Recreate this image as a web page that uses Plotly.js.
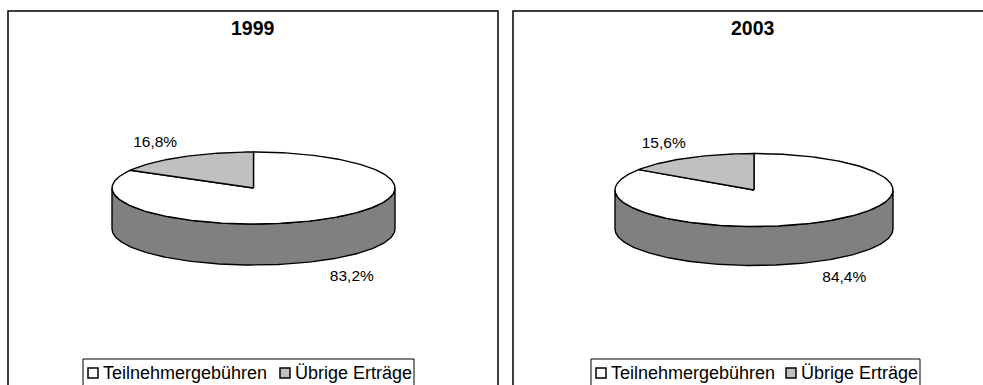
<!DOCTYPE html>
<html>
<head>
<meta charset="utf-8">
<script src="https://cdn.plot.ly/plotly-3.0.1.min.js"></script>
<style>html,body{margin:0;padding:0;background:#fff;}#chart{width:983px;height:385px;}</style>
</head>
<body>
<div id="chart"></div>
<script>
// ---- data ----
const years = ['1999', '2003'];
const categories = ['Teilnehmergebühren', 'Übrige Erträge'];
const values1999 = [83.2, 16.8];
const values2003 = [84.4, 15.6];
const seriesByYear = [values1999, values2003];

// ---- styles / layout geometry (pixel units of the figure) ----
const topColors = ['#FFFFFF', '#C0C0C0'];
const sideColors = ['#808080', '#606060'];
const FONT = 'Arial, "Liberation Sans", sans-serif';
const W = 983, H = 385;

const panels = [
  {x0: 8, x1: 498, top: 11, cx: 253.5, cy: 188, rx: 141.5, ry: 36, depth: 41,
   legX0: 83, legX1: 414, legY0: 359, sq: [88, 280], txt: [101, 293]},
  {x0: 513, x1: 1010, top: 11, cx: 754, cy: 190, rx: 139, ry: 36.5, depth: 39,
   legX0: 591, legX1: 920, legY0: 359, sq: [596, 786], txt: [609, 799]}
];

function pt(p, deg, dy) {
  const r = deg * Math.PI / 180;
  return [p.cx + p.rx * Math.sin(r), p.cy - p.ry * Math.cos(r) + dy];
}
function arc(p, a, b, dy) {
  const n = Math.max(2, Math.ceil(Math.abs(b - a)));
  const out = [];
  for (let i = 0; i <= n; i++) out.push(pt(p, a + (b - a) * i / n, dy));
  return out;
}
function polyTrace(points, fill) {
  return {
    type: 'scatter', mode: 'lines', x: points.map(q => q[0]), y: points.map(q => q[1]),
    fill: 'toself', fillcolor: fill, line: {color: '#000', width: 1.4},
    hoverinfo: 'skip', showlegend: false
  };
}

const traces = [];
const shapes = [];
const annotations = [];

panels.forEach((p, k) => {
  const vals = seriesByYear[k];
  const total = vals.reduce((s, v) => s + v, 0);
  // slice angles (clockwise from 12 o'clock)
  let acc = 0;
  const slices = vals.map((v, i) => {
    const a = acc / total * 360; acc += v; const b = acc / total * 360;
    return {a, b, i, v};
  });
  // side walls (front half only)
  slices.forEach(s => {
    const s0 = Math.max(s.a, 90), s1 = Math.min(s.b, 270);
    if (s0 < s1) {
      const pts = arc(p, s0, s1, 0).concat(arc(p, s1, s0, p.depth));
      pts.push(pts[0]);
      traces.push(polyTrace(pts, sideColors[s.i]));
    }
  });
  // top faces
  slices.forEach(s => {
    const pts = [[p.cx, p.cy]].concat(arc(p, s.a, s.b, 0));
    pts.push([p.cx, p.cy]);
    traces.push(polyTrace(pts, topColors[s.i]));
  });
  // data labels
  slices.forEach(s => {
    const m = (s.a + s.b) / 2 * Math.PI / 180;
    const c = Math.cos(m);
    const lx = p.cx + 1.38 * p.rx * Math.sin(m);
    const ly = p.cy - 1.44 * p.ry * c + (c < 0 ? p.depth + 3 : 0);
    traces.push({
      type: 'scatter', mode: 'text', x: [lx], y: [ly],
      text: [s.v.toFixed(1).replace('.', ',') + '%'],
      textposition: 'middle center', textfont: {family: FONT, size: 15.5, color: '#000'},
      hoverinfo: 'skip', showlegend: false, cliponaxis: false
    });
  });
  // panel frame
  shapes.push({type: 'rect', xref: 'x', yref: 'y', x0: p.x0, x1: p.x1, y0: p.top, y1: H + 20,
    line: {color: '#000', width: 1.5}, fillcolor: 'rgba(0,0,0,0)', layer: 'below'});
  // title
  annotations.push({xref: 'x', yref: 'y', x: p.cx - 1, y: 28, text: '<b>' + years[k] + '</b>',
    showarrow: false, xanchor: 'center', yanchor: 'middle', font: {family: FONT, size: 19.5, color: '#000'}});
  // legend box
  shapes.push({type: 'rect', xref: 'x', yref: 'y', x0: p.legX0, x1: p.legX1, y0: p.legY0, y1: H + 20,
    line: {color: '#000', width: 1}, fillcolor: 'rgba(0,0,0,0)'});
  categories.forEach((cat, i) => {
    shapes.push({type: 'rect', xref: 'x', yref: 'y', x0: p.sq[i], x1: p.sq[i] + 10, y0: 368, y1: 378,
      line: {color: '#000', width: 1.5}, fillcolor: topColors[i]});
    annotations.push({xref: 'x', yref: 'y', x: p.txt[i], y: 373, text: cat, showarrow: false,
      xanchor: 'left', yanchor: 'middle', font: {family: FONT, size: 18, color: '#000'}});
  });
});

const layout = {
  width: W, height: H, margin: {l: 0, r: 0, t: 0, b: 0},
  paper_bgcolor: '#fff', plot_bgcolor: '#fff', showlegend: false,
  xaxis: {range: [0, W], visible: false, fixedrange: true, showgrid: false, zeroline: false},
  yaxis: {range: [H, 0], visible: false, fixedrange: true, showgrid: false, zeroline: false},
  shapes, annotations
};
Plotly.newPlot('chart', traces, layout, {displayModeBar: false, staticPlot: true});
</script>
</body>
</html>
